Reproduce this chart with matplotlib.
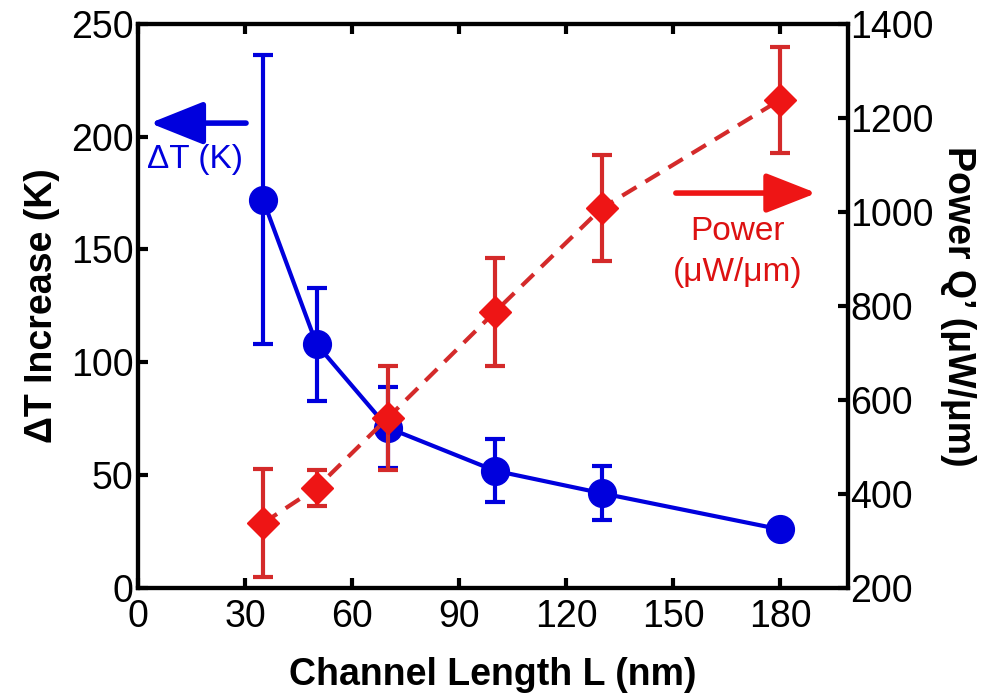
import numpy as np
import matplotlib.pyplot as plt

plt.rcParams['font.family'] = ['Liberation Sans', 'DejaVu Sans']

# channel length (nm)
L = [35, 50, 70, 100, 130, 180]
# temperature rise (K) and error
dT = [172, 108, 71, 52, 42, 26]
dT_err = [64, 25, 18, 14, 12, 2]
# power (uW/um) and error
Q = [338, 413, 562, 787, 1008, 1238]
Q_err = [115, 38, 110, 114, 112, 113]

blue = '#0000dd'
red_line = '#d42a2a'
red_mark = '#ee1515'

fig = plt.figure(figsize=(9.95, 7), dpi=100)
ax = fig.add_axes([0.139, 0.16, 0.713, 0.806])
ax2 = ax.twinx()

ax.errorbar(L, dT, yerr=dT_err, color=blue, lw=3, marker='o', ms=20,
            elinewidth=3, capsize=7, capthick=3, zorder=3)

ax2.errorbar(L, Q, yerr=Q_err, color=red_line, lw=3, ls=(0, (4, 2.5)),
             marker='D', ms=16, mfc=red_mark, mec=red_mark,
             elinewidth=3, capsize=7, capthick=3, zorder=3)

ax.set_xlim(0, 199)
ax.set_ylim(0, 250)
ax2.set_ylim(200, 1400)
ax.set_xticks(np.arange(0, 181, 30))
ax.set_yticks(np.arange(0, 251, 50))
ax2.set_yticks(np.arange(200, 1401, 200))

ax.tick_params(axis='x', direction='in', top=True, length=7, width=3,
               labelsize=27, pad=8)
ax.tick_params(axis='y', direction='in', length=7, width=3, labelsize=27)
ax2.tick_params(axis='y', direction='in', length=7, width=3, labelsize=27, pad=2)
for a in (ax, ax2):
    for s in a.spines.values():
        s.set_linewidth(3)

ax.set_xlabel('Channel Length L (nm)', fontsize=27, fontweight='bold', labelpad=16)
ax.set_ylabel('\u0394T Increase (K)', fontsize=27, fontweight='bold', labelpad=8)
ax2.set_ylabel('Power Q\u2019 (\u03bcW/\u03bcm)', fontsize=27, fontweight='bold',
               rotation=270, labelpad=30)

# arrows pointing to the matching axes
ax.annotate('', xy=(2.5, 206), xytext=(31, 206),
            arrowprops=dict(arrowstyle='-|>,head_length=1.5,head_width=0.6',
                            mutation_scale=22, lw=4, color=blue))
ax.text(2.5, 190, '\u0394T (K)', color=blue, fontsize=24, va='center', ha='left')

ax.annotate('', xy=(191, 175), xytext=(150, 175),
            arrowprops=dict(arrowstyle='-|>,head_length=1.4,head_width=0.55',
                            mutation_scale=22, lw=4, color=red_mark))
ax.text(168, 158, 'Power', color='#dd1111', fontsize=24, va='center', ha='center')
ax.text(168, 140, '(\u03bcW/\u03bcm)', color='#dd1111', fontsize=24, va='center', ha='center')

fig.savefig('out.png', dpi=100)
